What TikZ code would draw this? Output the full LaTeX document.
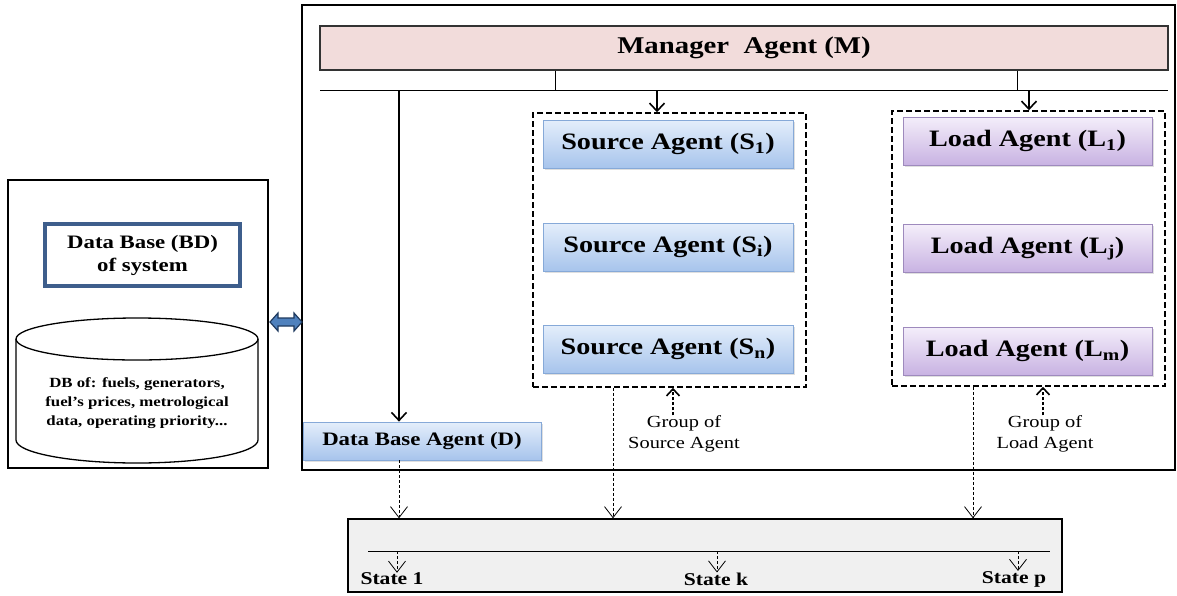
\documentclass[tikz,border=0pt]{standalone}
\usepackage{fontspec}
\setmainfont{Liberation Serif}[FakeStretch=1.2]
\usetikzlibrary{arrows.meta,shadows}
\definecolor{srct}{HTML}{E4EEFB}
\definecolor{srcbot}{HTML}{A7C4EC}
\definecolor{srcb}{HTML}{86A9D8}
\definecolor{ldt}{HTML}{F4EEFA}
\definecolor{ldbot}{HTML}{C8B2E2}
\definecolor{ldb}{HTML}{9E8ABD}
\definecolor{mgrfill}{HTML}{F2DCDB}
\definecolor{bdblue}{HTML}{3E5E8C}
\definecolor{arrblue}{HTML}{4F81BD}
\definecolor{arrdark}{HTML}{1F3A5F}
\definecolor{botfill}{HTML}{F0F0F0}
\begin{document}
\begin{tikzpicture}[x=1pt,y=-1pt,
  frame/.style={draw=black, line width=1.5pt, inner sep=0pt},
  shade/.style={drop shadow={opacity=0.25, shadow xshift=1.5pt, shadow yshift=-1.5pt}},
  srcbox/.style={draw=srcb, line width=0.8pt, top color=srct, bottom color=srcbot, shade,
     minimum width=250pt, minimum height=48pt, inner sep=0pt,
     font=\fontsize{23.5}{28}\selectfont\bfseries},
  ldbox/.style={draw=ldb, line width=0.8pt, top color=ldt, bottom color=ldbot, shade,
     minimum width=249pt, minimum height=48pt, inner sep=0pt,
     font=\fontsize{23.5}{28}\selectfont\bfseries},
  grpbox/.style={draw=black, line width=1.5pt, dash pattern=on 6pt off 3pt, inner sep=0pt},
  solidarr/.style={line width=1.4pt, -{Straight Barb[length=8pt,width=15pt,line width=1.6pt]}},
  dasharr/.style={line width=0.6pt, dash pattern=on 3pt off 2pt, -{Straight Barb[length=11pt,width=17pt,line width=0.8pt]}},
  grparr/.style={line width=1.6pt, dash pattern=on 3pt off 2pt, -{Straight Barb[length=7pt,width=13pt,line width=1.6pt]}},
  grplabel/.style={align=center, font=\fontsize{17}{21}\selectfont, inner sep=0pt},
  statelabel/.style={font=\fontsize{18}{20}\selectfont\bfseries, inner sep=0pt}
]
\useasboundingbox (0,0) rectangle (1177,595);

% outer frames
\node[frame, minimum width=873pt, minimum height=465pt] (main) at (738.5,237.5) {};
\node[frame, minimum width=260pt, minimum height=288pt] (left) at (138,324) {};

% manager
\node[draw=black!80, line width=1.2pt, fill=mgrfill, minimum width=848pt, minimum height=44pt,
      font=\fontsize{24}{28}\selectfont\bfseries] (M) at (744,48) {Manager~~Agent (M)};

% bus
\coordinate (busL) at (320,90);
\coordinate (busR) at (1168,90);
\draw[line width=0.9pt] (busL) -- (busR);
\coordinate (b1) at (555,90);
\coordinate (b2) at (1017,90);
\draw[line width=0.9pt] (b1 |- M.south) -- (b1);
\draw[line width=0.9pt] (b2 |- M.south) -- (b2);

% groups
\node[grpbox, minimum width=273pt, minimum height=274pt] (sg) at (669.5,250) {};
\node[grpbox, minimum width=273pt, minimum height=275pt] (lg) at (1028.5,248.5) {};

% source agents
\node[srcbox] (s1) at (668,144) {Source Agent (S\textsubscript{1})};
\node[srcbox] (si) at (668,247) {Source Agent (S\textsubscript{i})};
\node[srcbox] (sn) at (668,349) {Source Agent (S\textsubscript{n})};

% load agents
\node[ldbox] (l1) at (1027.5,141) {Load Agent (L\textsubscript{1})};
\node[ldbox] (lj) at (1027.5,248.5) {Load Agent (L\textsubscript{j})};
\node[ldbox] (lm) at (1027.5,351) {Load Agent (L\textsubscript{m})};

% database agent
\node[draw=srcb, line width=0.8pt, top color=srct, bottom color=srcbot, shade,
      minimum width=238pt, minimum height=38pt, inner sep=0pt,
      font=\fontsize{19}{22}\selectfont\bfseries] (dba) at (422,441) {Data Base Agent (D)};

% arrows from bus
\coordinate (a1) at (399,90);
\coordinate (a2) at (657,90);
\coordinate (a3) at (1029,90);
\draw[solidarr] (a1) -- (a1 |- dba.north);
\draw[solidarr] (a2) -- (a2 |- sg.north);
\draw[solidarr] (a3) -- (a3 |- lg.north);

% group labels
\node[grplabel] (gsl) at (684,434) {Group of\\Source Agent};
\node[grplabel] (gll) at (1045,434) {Group of\\Load Agent};
\coordinate (ga1) at (673,0);
\coordinate (ga2) at (1043,0);
\draw[grparr] (ga1 |- gsl.north) -- (ga1 |- sg.south);
\draw[grparr] (ga2 |- gll.north) -- (ga2 |- lg.south);

% bottom state box
\node[draw=black, line width=1.5pt, fill=botfill, minimum width=714pt, minimum height=73pt] (bot) at (705,555.5) {};
\coordinate (d1) at (399,0);
\coordinate (d2) at (613,0);
\coordinate (d3) at (973,0);
\draw[dasharr] (d1 |- dba.south) -- (d1 |- bot.north);
\draw[dasharr] (d2 |- sg.south) -- (d2 |- bot.north);
\draw[dasharr] (d3 |- lg.south) -- (d3 |- bot.north);

\coordinate (sl) at (368,551);
\coordinate (sr) at (1050,551);
\draw[line width=0.9pt] (sl) -- (sr);
\coordinate (t1) at (397,551);
\coordinate (t2) at (717,551);
\coordinate (t3) at (1018,551);
\node[statelabel] (st1) at (392,579) {State 1};
\node[statelabel] (stk) at (716,579) {State k};
\node[statelabel] (stp) at (1014,579) {State p};
\draw[dasharr] (t1) -- (t1 |- st1.north);
\draw[dasharr] (t2) -- (t2 |- stk.north);
\draw[dasharr] (t3) -- (t3 |- stp.north);

% data base of system
\node[draw=bdblue, line width=4pt, fill=white, minimum width=195pt, minimum height=62pt,
      align=center, font=\fontsize{19}{23}\selectfont\bfseries] (bd) at (142.5,255) {Data Base (BD)\\of system};

% cylinder
\draw[line width=1.3pt] (16,339) -- (16,440) arc[start angle=180, end angle=360, x radius=121pt, y radius=23pt] -- (258,339);
\draw[line width=1.3pt] (137,339) ellipse[x radius=121pt, y radius=21pt];
\node[align=center, font=\fontsize{14}{19}\selectfont\bfseries, inner sep=0pt] (dbtext) at (137,403)
  {DB of: fuels, generators,\\fuel's prices, metrological\\data, operating priority...};

% double arrow
\filldraw[fill=arrblue, draw=arrdark, line width=1.2pt]
  (270,322) -- (278,313) -- (278,318) -- (294,318) -- (294,313) -- (302,322)
  -- (294,331) -- (294,326) -- (278,326) -- (278,331) -- cycle;
\end{tikzpicture}
\end{document}
